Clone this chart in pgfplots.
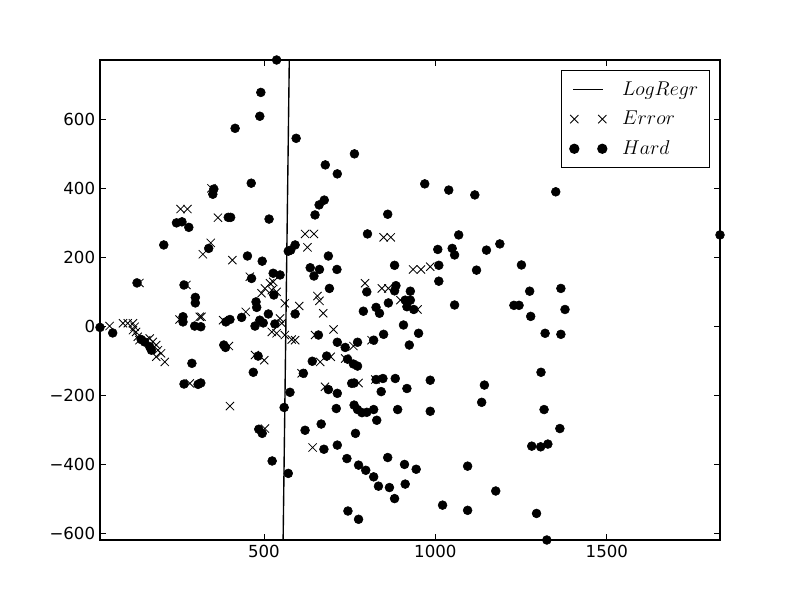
\documentclass[border=0pt]{standalone}
\usepackage{fontspec}
\setmainfont{DejaVu Sans}
\usepackage{pgfplots}
\pgfplotsset{compat=1.18}
\pgfplotsset{
  pair of marks legend/.style={
    legend image code/.code={\path[draw=none] (0in,0in) -- (0.45in,0in);
      \draw[##1, only marks] plot coordinates {(0in,0in) (0.28in,0in)};}
  },
  short line legend/.style={
    legend image code/.code={\path[draw=none] (0in,0in) -- (0.45in,0in);
      \draw[##1] (-0.01in,0in) -- (0.29in,0in);}
  },
}

\begin{document}
\begin{tikzpicture}
\path[use as bounding box] (-1in,-0.6in) rectangle (7in,5.4in);
\begin{axis}[
    scale only axis,
    width=6.2in, height=4.8in,
    xmin=22, xmax=1830,
    ymin=-619, ymax=772,
    axis line style={line width=1pt},
    tick align=inside,
    xtick pos=both, ytick pos=both,
    major tick length=4pt,
    tick style={black, line width=0.5pt},
    xtick={500,1000,1500},
    ytick={-600,-400,-200,0,200,400,600},
    yticklabels={−600,−400,−200,0,200,400,600},
    /pgf/number format/assume math mode=true,
    /pgf/number format/1000 sep={},
    ticklabel style={font=\fontsize{12}{14}\selectfont},
    legend cell align=left,
    legend style={
        at={(1,1)}, xshift=-0.1in, yshift=-0.1in, anchor=north east,
        draw=black, line width=1pt,
        font=\fontsize{14.4}{17}\selectfont,
        row sep=6pt, inner xsep=6pt, inner ysep=6pt,
    },
]
  % logistic regression boundary
  \addplot[black, line width=1pt, short line legend]
    coordinates {(556,-619) (574,772)};

  % misclassified
  \addplot[only marks, mark=x, mark size=4.2pt, black, mark options={line width=0.6pt},
      pair of marks legend]
    coordinates {
      (347,400) (257,340) (277,340) (366,315) (345,242) (322,209) (408,192)
      (620,268) (646,268) (627,229) (459,144) (137,126) (274,120) (518,125)
      (527,129) (503,110) (493,96) (523,105) (537,100) (561,67) (603,59)
      (447,42) (254,20) (313,28) (318,28) (381,18) (547,23) (552,9)
      (523,-16) (537,-20) (561,-25) (581,-38) (591,-40) (50,1) (89,9)
      (103,9) (118,9) (123,-1) (118,-11) (127,-16) (132,-30) (137,-40)
      (157,-40) (167,-35) (176,-45) (186,-54) (191,-69) (200,-78) (186,-88)
      (211,-103) (398,-57) (474,-83) (501,-98) (610,-136) (284,-165) (401,-231)
      (503,-296) (849,258) (870,258) (935,165) (958,165) (985,173) (795,125)
      (844,110) (863,110) (656,88) (662,74) (898,76) (948,49) (673,38)
      (703,-9) (649,-25) (814,-40) (761,-57) (695,-88) (664,-103) (737,-93)
      (825,-154) (776,-164) (678,-175) (642,-351)
    };

  % hard examples
  \addplot[only marks, mark=*, mark size=3.2pt, black, pair of marks legend]
    coordinates {
      (537,772) (491,678) (488,609) (416,574) (594,545) (463,415) (354,398)
      (351,383) (396,316) (403,316) (515,311) (649,323) (245,300) (261,303)
      (281,287) (764,500) (679,468) (714,442) (969,413) (1039,395) (1115,381)
      (676,366) (661,352) (861,325) (1351,390)
      (208,236) (339,226) (452,204) (495,189) (591,236) (578,221) (571,218)
      (527,154) (547,149) (464,139) (130,126) (267,120) (529,91) (300,84)
      (300,68) (477,71) (479,55) (591,36) (264,28) (264,13) (435,26)
      (401,20) (389,13) (513,36) (488,18) (498,10) (474,1) (532,7)
      (298,1) (316,-1) (22,-3) (59,-19) (142,-38) (152,-45) (167,-59)
      (172,-69) (383,-54) (388,-61) (290,-107) (483,-86) (469,-133) (615,-136)
      (267,-167) (308,-168) (316,-164) (576,-191) (559,-235) (485,-298) (495,-310)
      (620,-301) (524,-390) (571,-426)
      (802,268) (1068,265) (1188,239) (1149,221) (1007,223) (1049,226) (1056,207)
      (688,204) (635,170) (662,165) (646,146) (713,165) (881,177) (1010,177)
      (1120,163) (1010,131) (691,110) (800,100) (885,118) (881,103) (927,102)
      (912,76) (927,76) (917,57) (937,49) (863,68) (1056,62) (790,44)
      (827,55) (837,38) (907,4) (951,-20) (659,-25) (849,-23) (820,-40)
      (714,-46) (737,-61) (773,-46) (924,-54) (683,-86) (641,-101) (744,-95)
      (761,-109) (773,-115) (827,-154) (847,-151) (883,-151) (985,-156) (756,-165)
      (763,-164) (917,-180) (1143,-170) (688,-183) (842,-189)
      (714,-194) (1135,-220) (711,-238) (763,-228) (773,-241) (786,-250) (800,-249)
      (820,-241) (829,-272) (890,-241) (985,-246) (667,-283) (767,-310) (675,-356)
      (714,-344) (742,-383) (861,-380) (776,-402) (797,-417) (910,-400) (944,-414)
      (1094,-405) (820,-436) (834,-463) (866,-467) (912,-457) (881,-499) (1176,-477)
      (1021,-518) (1094,-533) (745,-535) (776,-559)
      (1830,265) (1251,178) (1275,102) (1366,110) (1229,61) (1244,61) (1378,49)
      (1278,29) (1320,-20) (1366,-23) (1308,-133) (1317,-241) (1363,-296) (1281,-347)
      (1307,-349) (1328,-341) (1295,-542) (1325,-619)
    };

  \legend{$LogRegr$, $Error$, $Hard$}
\end{axis}
\end{tikzpicture}
\end{document}
